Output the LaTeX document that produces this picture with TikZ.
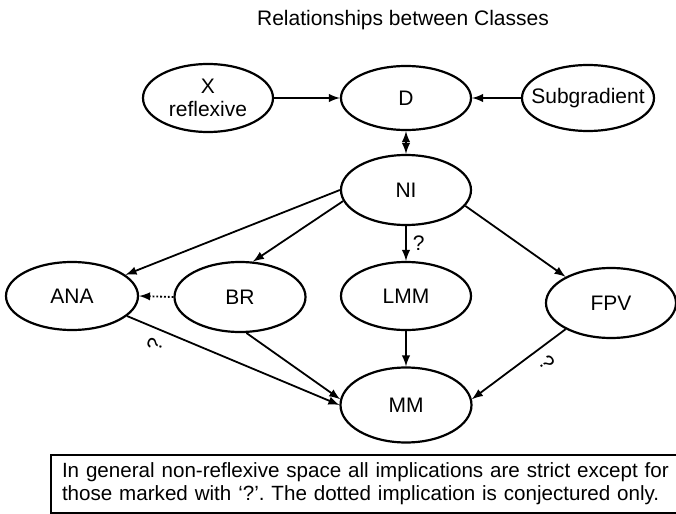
\documentclass[tikz,border=0pt]{standalone}
\usepackage{fontspec}
\setmainfont{Liberation Sans}
\usetikzlibrary{shapes,arrows}
\frenchspacing

\begin{document}
\begin{tikzpicture}[x=0.5pt, y=-0.5pt, >=latex,
        every node/.style={font=\fontsize{10.5}{11.5}\selectfont},
        cls/.style={draw, ellipse, line width=1.1pt, minimum width=65pt, minimum height=34pt, inner xsep=-8pt, inner ysep=-4pt, align=center},
        impl/.style={->, line width=0.9pt},
        qmark/.style={inner sep=0pt}]
        \clip (0,0) rectangle (676,514);

        % Title
        \node (title) at (403,20) {Relationships between Classes};

        % Top row: X reflexive, D, Subgradient
        \node[cls] (xref) at (208,98) {X\\reflexive};
        \node[cls, minimum height=32pt] (d) at (406,98) {D};
        \node[cls, minimum width=66pt, minimum height=33pt] (sub) at (588,98) {Subgradient};

        % NI below D
        \node[cls, minimum height=35pt] (ni) at (406,190) {NI};

        % Second row of classes
        \node[cls, minimum width=66pt] (ana) at (72,296) {ANA};
        \node[cls, minimum width=65.5pt, minimum height=35pt] (br) at (240,297) {BR};
        \node[cls] (lmm) at (406,296) {LMM};
        \node[cls, minimum height=35pt] (fpv) at (611,303) {FPV};

        % MM at the bottom
        \node[cls, minimum width=65.5pt, minimum height=37.5pt] (mm) at (406,405) {MM};

        % Note box
        \node[draw, line width=1pt, anchor=north west, text width=340pt, inner xsep=5.5pt, inner ysep=4pt, align=left, font=\fontsize{10.3}{11.5}\selectfont] (note) at (50,454) {In general non-reflexive space all implications are strict except for\\those marked with ‘?’. The dotted implication is conjectured only.};

        % Implications
        \draw[impl] (xref.east) -- (d.west);
        \draw[impl] (sub.west) -- (d.east);
        \draw[impl, <->] (d.south) -- (ni.north);
        \draw[impl] (ni.west) -- (ana);
        \draw[impl] (ni.190) -- (br.70);
        \draw[impl] (ni.south) -- node[right, qmark, xshift=3pt] (q1) {?} (lmm.north);
        \draw[impl] (ni.-15) -- (fpv.150);
        \draw[impl, densely dotted] (br.west) -- (ana.east);
        \draw[impl] (ana.-20) -- node[qmark, pos=0.13, yshift=-8.5pt, rotate=70] (q2) {?} (mm.west);
        \draw[impl] (br.-80) -- (mm.175);
        \draw[impl] (lmm.south) -- (mm.north);
        \draw[impl] (fpv.210) -- node[qmark, pos=0.2, yshift=-9.5pt, rotate=-52] (q3) {?} (mm.5);
    \end{tikzpicture}
\end{document}
